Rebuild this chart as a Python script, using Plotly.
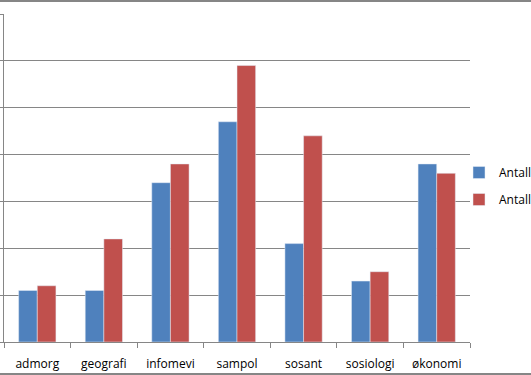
import plotly.graph_objects as go

categories = ["admorg", "geografi", "infomevi", "sampol", "sosant", "sosiologi", "økonomi"]
series1_name = "Antall"
series2_name = "Antall"
series1 = [11, 11, 34, 47, 21, 13, 38]
series2 = [12, 22, 38, 59, 44, 15, 36]

W, H = 531, 375
ml, mr, mt, mb = 4, 61, 14, 33
pw, ph = W - ml - mr, H - mt - mb

def px_x(px):
    return (px - ml) / pw

def px_y(py):
    return (H - mb - py) / ph

fig = go.Figure()
fig.add_trace(go.Bar(x=categories, y=series1, name=series1_name, marker_color="#4F81BD",
                     legendgroup="a"))
fig.add_trace(go.Bar(x=categories, y=series2, name=series2_name, marker_color="#C0504D",
                     legendgroup="b"))

fig.update_layout(
    width=W, height=H,
    margin=dict(l=ml, r=mr, t=mt, b=mb, autoexpand=False),
    plot_bgcolor="white", paper_bgcolor="white",
    barmode="group", bargap=0.44, bargroupgap=0,
    font=dict(family="Open Sans, Liberation Sans, Arial, sans-serif", size=12, color="#000000"),
    legend=dict(x=px_x(459), y=px_y(186), xanchor="left", yanchor="middle",
                traceorder="grouped", tracegroupgap=8, bgcolor="rgba(0,0,0,0)",
                font=dict(size=12), itemwidth=30),
    xaxis=dict(type="category", showline=True, linecolor="#868686", linewidth=1,
               ticks="outside", ticklen=5, tickcolor="#868686", tickson="boundaries",
               showgrid=False, tickfont=dict(size=12), ticklabelstandoff=11),
    yaxis=dict(range=[0, 70], dtick=10, showgrid=True, gridcolor="#868686", gridwidth=1,
               showline=True, linecolor="#868686", linewidth=1,
               ticks="outside", ticklen=4, tickcolor="#868686",
               showticklabels=False, zeroline=False),
    showlegend=True,
)

fig.add_shape(type="line", xref="paper", yref="paper", x0=px_x(0), x1=px_x(531),
              y0=px_y(1), y1=px_y(1), line=dict(color="#868686", width=2))
fig.add_shape(type="line", xref="paper", yref="paper", x0=px_x(0), x1=px_x(531),
              y0=px_y(374), y1=px_y(374), line=dict(color="#868686", width=2))

fig.write_html("out.html", config={"displayModeBar": False},
               post_script="document.body.style.margin='0';document.body.style.overflow='hidden';")
